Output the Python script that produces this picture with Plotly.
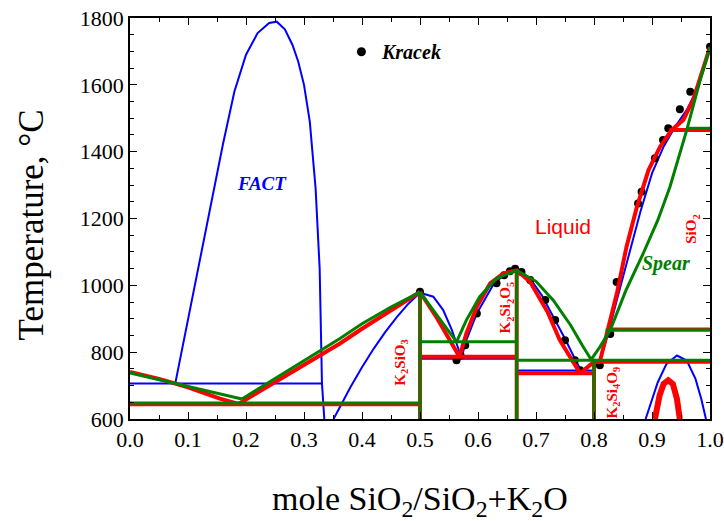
import plotly.graph_objects as go

# ---------------- data (mole fraction SiO2, temperature C) ----------------
# FACT (blue)
fact_gap_x = [0.078, 0.10, 0.13, 0.16, 0.18, 0.20, 0.22, 0.24, 0.253, 0.267, 0.28, 0.29, 0.30, 0.31, 0.32, 0.327, 0.331, 0.335]
fact_gap_T = [706, 898, 1160, 1420, 1580, 1690, 1755, 1785, 1789, 1766, 1720, 1670, 1600, 1490, 1290, 1050, 706, 600]
fact_mono_x = [0.0, 0.331]
fact_mono_T = [706, 706]
fact_ks1_x = [0.351, 0.362, 0.38, 0.40, 0.42, 0.44, 0.46, 0.48, 0.50]
fact_ks1_T = [600, 636, 695, 755, 810, 860, 905, 945, 978]
fact_ks2_x = [0.50, 0.523, 0.54, 0.555, 0.566, 0.571]
fact_ks2_T = [978, 966, 926, 866, 811, 781]
fact_k2s_x = [0.571, 0.58, 0.598, 0.626, 0.645, 0.66, 0.667, 0.69, 0.71, 0.73, 0.75, 0.77, 0.778]
fact_k2s_T = [781, 836, 916, 1001, 1032, 1044, 1045, 1020, 970, 905, 840, 770, 745]
fact_eut1_x = [0.5, 0.667]
fact_eut1_T = [780, 780]
fact_eut2_x = [0.667, 0.8]
fact_eut2_T = [745, 745]
fact_sio2_x = [0.778, 0.8, 0.81, 0.825, 0.84, 0.86, 0.88, 0.90, 0.92, 0.94, 0.96, 0.98, 1.0]
fact_sio2_T = [745, 768, 770, 860, 960, 1090, 1220, 1335, 1415, 1475, 1525, 1595, 1713]
fact_low_x = [0.889, 0.90, 0.91, 0.925, 0.943, 0.96, 0.975, 0.985, 0.993]
fact_low_T = [600, 660, 710, 765, 790, 775, 720, 660, 600]

# Assessed diagram (red)
red_k2o_x = [0.0, 0.05, 0.10, 0.155, 0.187]
red_k2o_T = [741, 720, 695, 661, 645]
red_eut0_x = [0.0, 0.5]
red_eut0_T = [644, 644]
red_ks1_x = [0.187, 0.25, 0.30, 0.362, 0.40, 0.45, 0.50]
red_ks1_T = [645, 710, 762, 826, 870, 925, 980]
red_ks2_x = [0.50, 0.53, 0.55, 0.568]
red_ks2_T = [980, 900, 840, 786]
red_k2s_x = [0.568, 0.58, 0.598, 0.621, 0.644, 0.667, 0.69, 0.707, 0.72, 0.741, 0.767, 0.776]
red_k2s_T = [786, 856, 936, 1006, 1036, 1045, 1010, 956, 920, 836, 761, 737]
red_eut1_x = [0.5, 0.667]
red_eut1_T = [786, 786]
red_eut2_x = [0.667, 0.8]
red_eut2_T = [737, 737]
red_k4s_x = [0.776, 0.8, 0.81]
red_k4s_T = [737, 771, 771]
red_eut3_x = [0.8, 1.0]
red_eut3_T = [771, 771]
red_sio2_x = [0.81, 0.825, 0.84, 0.856, 0.874, 0.894, 0.914, 0.934, 0.954, 0.971, 0.986, 1.0]
red_sio2_T = [771, 880, 980, 1115, 1235, 1345, 1415, 1465, 1495, 1555, 1634, 1713]
red_trid_x = [0.824, 1.0]
red_trid_T = [868, 868]
red_cris_x = [0.93, 1.0]
red_cris_T = [1465, 1465]
red_low_x = [0.905, 0.913, 0.92, 0.928, 0.936, 0.943, 0.948]
red_low_T = [600, 670, 705, 716, 705, 660, 600]
compound_x = [0.5, 0.6667, 0.8]
red_compound_T = [980, 1045, 771]

# Spear (green)
grn_k2o_x = [0.0, 0.193]
grn_k2o_T = [738, 660]
grn_eut0_x = [0.0, 0.5]
grn_eut0_T = [648, 648]
grn_ks1_x = [0.193, 0.362, 0.40, 0.45, 0.50]
grn_ks1_T = [660, 841, 885, 935, 980]
grn_ks2_x = [0.50, 0.563]
grn_ks2_T = [980, 831]
grn_k2s_x = [0.563, 0.58, 0.603, 0.632, 0.667, 0.70, 0.73, 0.76, 0.78, 0.795]
grn_k2s_T = [831, 896, 966, 1021, 1045, 1012, 955, 880, 820, 778]
grn_eut1_x = [0.5, 0.667]
grn_eut1_T = [831, 831]
grn_eut2_x = [0.667, 1.0]
grn_eut2_T = [776, 776]
grn_sio2_x = [0.795, 0.81, 0.828, 0.855, 0.885, 0.91, 0.931, 0.96, 0.983, 1.0]
grn_sio2_T = [778, 815, 866, 985, 1096, 1195, 1295, 1465, 1614, 1713]
grn_trid_x = [0.82, 1.0]
grn_trid_T = [866, 866]
grn_cris_x = [0.96, 1.0]
grn_cris_T = [1470, 1470]
grn_compound_T = [980, 1045, 780]

# Kracek (points)
kracek_x = [0.5, 0.563, 0.57, 0.578, 0.598, 0.632, 0.645, 0.655, 0.664, 0.675, 0.69, 0.716, 0.733, 0.75, 0.767, 0.776,
            0.81, 0.828, 0.839, 0.876, 0.882, 0.905, 0.919, 0.928, 0.948, 0.966, 1.0]
kracek_T = [981, 776, 790, 821, 916, 1006, 1030, 1042, 1050, 1040, 1016, 956, 896, 836, 776, 746,
            761, 854, 1010, 1245, 1280, 1380, 1435, 1470, 1527, 1579, 1714]

y_ticks = [600, 800, 1000, 1200, 1400, 1600, 1800]
x_ticks = [0.0, 0.1, 0.2, 0.3, 0.4, 0.5, 0.6, 0.7, 0.8, 0.9, 1.0]

BLUE = "#0000ff"
RED = "#ff0000"
GREEN = "#008000"

fig = go.Figure()


def add(x, y, color, width):
    fig.add_trace(go.Scatter(x=x, y=y, mode="lines", line=dict(color=color, width=width),
                             hoverinfo="skip", showlegend=False))


for xs, ys in [(fact_gap_x, fact_gap_T), (fact_mono_x, fact_mono_T), (fact_ks1_x, fact_ks1_T),
               (fact_ks2_x, fact_ks2_T), (fact_k2s_x, fact_k2s_T), (fact_eut1_x, fact_eut1_T),
               (fact_eut2_x, fact_eut2_T), (fact_sio2_x, fact_sio2_T), (fact_low_x, fact_low_T)]:
    add(xs, ys, BLUE, 2)

fig.add_trace(go.Scatter(x=kracek_x, y=kracek_T, mode="markers",
                         marker=dict(color="black", size=8), hoverinfo="skip", showlegend=False))

for xs, ys in [(red_k2o_x, red_k2o_T), (red_eut0_x, red_eut0_T), (red_ks1_x, red_ks1_T),
               (red_ks2_x, red_ks2_T), (red_k2s_x, red_k2s_T), (red_eut1_x, red_eut1_T),
               (red_eut2_x, red_eut2_T), (red_k4s_x, red_k4s_T), (red_eut3_x, red_eut3_T),
               (red_sio2_x, red_sio2_T), (red_trid_x, red_trid_T), (red_cris_x, red_cris_T)]:
    add(xs, ys, RED, 4)
add(red_low_x, red_low_T, RED, 6)
for cx, ct in zip(compound_x, red_compound_T):
    add([cx, cx], [600, ct], RED, 4)

for xs, ys in [(grn_k2o_x, grn_k2o_T), (grn_eut0_x, grn_eut0_T), (grn_ks1_x, grn_ks1_T),
               (grn_ks2_x, grn_ks2_T), (grn_k2s_x, grn_k2s_T), (grn_eut1_x, grn_eut1_T),
               (grn_eut2_x, grn_eut2_T), (grn_sio2_x, grn_sio2_T), (grn_trid_x, grn_trid_T),
               (grn_cris_x, grn_cris_T)]:
    add(xs, ys, GREEN, 3)
for cx, ct in zip(compound_x, grn_compound_T):
    add([cx, cx], [600, ct], GREEN, 3)

# legend-like marker for Kracek
fig.add_trace(go.Scatter(x=[0.399], y=[1699], mode="markers", marker=dict(color="black", size=9),
                         hoverinfo="skip", showlegend=False))

serif = "Liberation Serif, Times New Roman, serif"
ann = [
    dict(x=0.43, y=1699, text="<b><i>Kracek</i></b>", color="black", size=20, font=serif, angle=0, xanchor="left"),
    dict(x=0.228, y=1306, text="<b><i>FACT</i></b>", color=BLUE, size=19, font=serif, angle=0, xanchor="center"),
    dict(x=0.924, y=1066, text="<b><i>Spear</i></b>", color=GREEN, size=20, font=serif, angle=0, xanchor="center"),
    dict(x=0.747, y=1177, text="Liquid", color=RED, size=21, font="Liberation Sans, Arial, sans-serif", angle=0, xanchor="center"),
    dict(x=0.468, y=770, text="<b>K<sub>2</sub>SiO<sub>3</sub></b>", color=RED, size=15, font=serif, angle=-90, xanchor="center"),
    dict(x=0.649, y=935, text="<b>K<sub>2</sub>Si<sub>2</sub>O<sub>5</sub></b>", color=RED, size=15, font=serif, angle=-90, xanchor="center"),
    dict(x=0.833, y=680, text="<b>K<sub>2</sub>Si<sub>4</sub>O<sub>9</sub></b>", color=RED, size=15, font=serif, angle=-90, xanchor="center"),
    dict(x=0.97, y=1168, text="<b>SiO<sub>2</sub></b>", color=RED, size=15, font=serif, angle=-90, xanchor="center"),
]
for a in ann:
    fig.add_annotation(x=a["x"], y=a["y"], text=a["text"], showarrow=False, textangle=a["angle"],
                       xanchor=a["xanchor"], yanchor="middle",
                       font=dict(family=a["font"], size=a["size"], color=a["color"]))

# axis titles as paper annotations
fig.add_annotation(xref="paper", yref="paper", x=0.5, y=-0.205, text="mole SiO<sub>2</sub>/SiO<sub>2</sub>+K<sub>2</sub>O",
                   showarrow=False, xanchor="center", yanchor="middle",
                   font=dict(family=serif, size=34, color="black"))
fig.add_annotation(xref="paper", yref="paper", x=-0.169, y=0.485, text="Temperature, °C", textangle=-90,
                   showarrow=False, xanchor="center", yanchor="middle",
                   font=dict(family=serif, size=35, color="black"))

axis_common = dict(showline=True, linecolor="black", linewidth=1.5, mirror="ticks", ticks="inside",
                   ticklen=7, tickwidth=1.2, tickcolor="black", showgrid=False, zeroline=False,
                   automargin=False, tickfont=dict(family=serif, size=22, color="black"))

fig.update_xaxes(range=[0, 1], tickvals=x_ticks, ticktext=[f"{v:.1f}" for v in x_ticks],
                 minor=dict(dtick=0.05, tick0=0, ticks="inside", ticklen=4, tickcolor="black", tickwidth=1),
                 **axis_common)
fig.update_yaxes(range=[600, 1800], tickvals=y_ticks,
                 minor=dict(dtick=50, tick0=600, ticks="inside", ticklen=4, tickcolor="black", tickwidth=1),
                 **axis_common)

fig.update_layout(width=724, height=521, margin=dict(l=130, r=14, t=18, b=102, autoexpand=False),
                  plot_bgcolor="white", paper_bgcolor="white", showlegend=False)

fig.write_html("out.html")
